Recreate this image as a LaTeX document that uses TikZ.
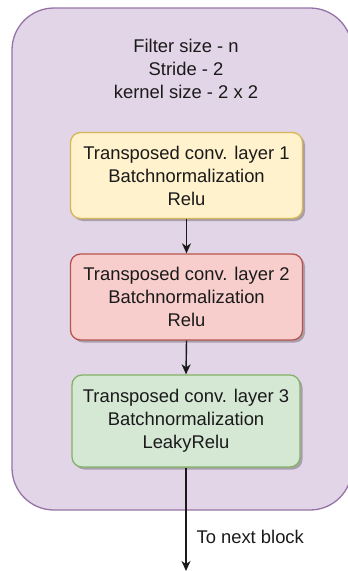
\documentclass[tikz,border=0pt]{standalone}
\usepackage{fontspec}
\setmainfont{Liberation Sans}
\usetikzlibrary{arrows.meta,shadows}
\definecolor{pfill}{HTML}{E1D5E7}
\definecolor{pline}{HTML}{9673A6}
\definecolor{yfill}{HTML}{FFF2CC}
\definecolor{yline}{HTML}{D6B656}
\definecolor{rfill}{HTML}{F8CECC}
\definecolor{rline}{HTML}{B85450}
\definecolor{gfill}{HTML}{D5E8D4}
\definecolor{gline}{HTML}{82B366}
\definecolor{txt}{HTML}{1A1A1A}
\tikzset{
  layerbox/.style={rounded corners=10pt, line width=1.3pt, minimum width=232pt, minimum height=86pt,
    align=center, font=\fontsize{18.4}{23}\selectfont, text=txt,
    drop shadow={shadow xshift=2.5pt, shadow yshift=-2.5pt, fill=black, opacity=0.25}},
  conn/.style={line width=1.4pt, draw=txt, -{Stealth[length=10pt,width=9pt,inset=3pt]}}
}
\begin{document}
\begin{tikzpicture}[x=1pt,y=-1pt]
\useasboundingbox (0,0) rectangle (348,571);
\node[draw=pline, fill=pfill, line width=1.3pt, rounded corners=42pt, minimum width=340pt, minimum height=502pt, inner sep=0pt] (outer) at (182,259) {};
\node[align=center, font=\fontsize{18.4}{23}\selectfont, text=txt] (title) at (186,68.5) {Filter size - n\\Stride - 2\\kernel size - 2 x 2};
\node[layerbox, draw=yline, fill=yfill] (l1) at (186.5,175.5) {Transposed conv. layer 1\\Batchnormalization\\Relu};
\node[layerbox, draw=rline, fill=rfill] (l2) at (186.5,297) {Transposed conv. layer 2\\Batchnormalization\\Relu};
\node[layerbox, draw=gline, fill=gfill, minimum width=228pt, minimum height=92pt] (l3) at (186,421) {Transposed conv. layer 3\\Batchnormalization\\LeakyRelu};
\coordinate (end) at (186,571);
\draw[conn] (l1.south) -- (l2.north);
\draw[conn] (l2.south) -- (l3.north);
\draw[conn] (l3.south) -- (end);
\node[anchor=west, font=\fontsize{18.4}{23}\selectfont, text=txt] (lbl) at (193,537) {To next block};
\end{tikzpicture}
\end{document}
